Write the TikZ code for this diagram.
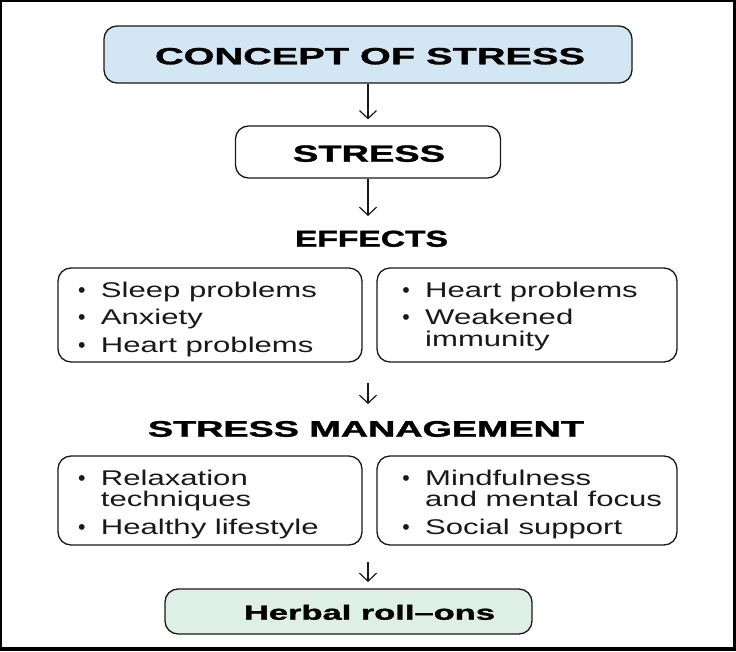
\documentclass[tikz,border=0pt]{standalone}
\usepackage{fontspec}
\usepackage{graphicx}
\setmainfont{Liberation Sans}
\newfontfamily\bodyfont{Liberation Sans}[FakeStretch=1.46]
\newfontfamily\headfont{Liberation Sans Bold}[FakeBold=1.2]
\usetikzlibrary{arrows.meta}
\definecolor{conceptblue}{RGB}{211,230,244}
\definecolor{herbalgreen}{RGB}{222,240,229}
\definecolor{ink}{RGB}{25,25,25}
\newcommand\headtxt[3]{\headfont\fontsize{#1}{#1}\selectfont\resizebox{#2pt}{\height}{#3}}
\newcommand\bul{\makebox[0pt][c]{\rmfamily\textbullet}\hspace{19pt}}
\newcommand\ind{\hspace{19pt}}
\tikzset{
  box/.style={draw=ink, line width=1.3pt, rounded corners=13pt, inner sep=0pt},
  head/.style={anchor=base, inner sep=0pt, text=black},
  body/.style={anchor=base west, inner sep=0pt, text=ink, font=\bodyfont\fontsize{21.3}{21.5}\selectfont},
  arr/.style={draw=ink, line width=1.2pt, -{Straight Barb[length=8pt,width=17pt]}}
}
\begin{document}
\begin{tikzpicture}[x=1pt,y=-1pt]
  % frame
  \fill[black] (0,0) rectangle (736,651);
  \fill[white] (2,2) rectangle (733,647);
  % boxes
  \node[box, fill=conceptblue, minimum width=528pt, minimum height=57pt] (concept) at (368,54.5) {};
  \node[box, fill=white, minimum width=265pt, minimum height=52pt] (stress) at (368,152) {};
  \node[box, fill=white, minimum width=304pt, minimum height=94pt] (effL) at (210,315) {};
  \node[box, fill=white, minimum width=300pt, minimum height=94pt] (effR) at (527,315) {};
  \node[box, fill=white, minimum width=304pt, minimum height=89pt] (mgL) at (210,500.5) {};
  \node[box, fill=white, minimum width=300pt, minimum height=89pt] (mgR) at (527,500.5) {};
  \node[box, fill=herbalgreen, minimum width=367pt, minimum height=45pt] (herbal) at (348.5,611.5) {};
  % headings
  \node[head] (conceptT) at (370,64.3) {\headtxt{23.5}{430}{CONCEPT OF STRESS}};
  \node[head] (stressT) at (369,161.7) {\headtxt{23.5}{152}{STRESS}};
  \node[head] (effectsT) at (371.5,246.7) {\headtxt{23}{153}{EFFECTS}};
  \node[head] (mgmtT) at (366,436.7) {\headtxt{22.5}{436}{STRESS MANAGEMENT}};
  \node[head] (herbalT) at (369.5,619.7) {\headtxt{20.5}{251}{Herbal roll–ons}};
  % body texts
  \node[body] (effLtxt) at (81.7,297) {\begin{tabular}[t]{@{}l@{}}\bul Sleep problems\\[6pt]\bul Anxiety\\[6pt]\bul Heart problems\end{tabular}};
  \node[body] (effRtxt) at (406,297) {\begin{tabular}[t]{@{}l@{}}\bul Heart problems\\[6pt]\bul Weakened\\\ind immunity\end{tabular}};
  \node[body] (mgLtxt) at (81.7,485) {\begin{tabular}[t]{@{}l@{}}\bul Relaxation\\\ind techniques\\[6pt]\bul Healthy lifestyle\end{tabular}};
  \node[body] (mgRtxt) at (406,485) {\begin{tabular}[t]{@{}l@{}}\bul Mindfulness\\\ind and mental focus\\[6pt]\bul Social support\end{tabular}};
  % arrows
  \coordinate (a2end) at (368,216);
  \coordinate (a3start) at (368,382.5);
  \coordinate (a3end) at (368,404);
  \coordinate (a4start) at (368,562);
  \coordinate (a4end) at (368,582);
  \draw[arr, shorten >=6pt] (concept.south) -- (stress.north);
  \draw[arr] (stress.south) -- (a2end);
  \draw[arr] (a3start) -- (a3end);
  \draw[arr] (a4start) -- (a4end);
\end{tikzpicture}
\end{document}
